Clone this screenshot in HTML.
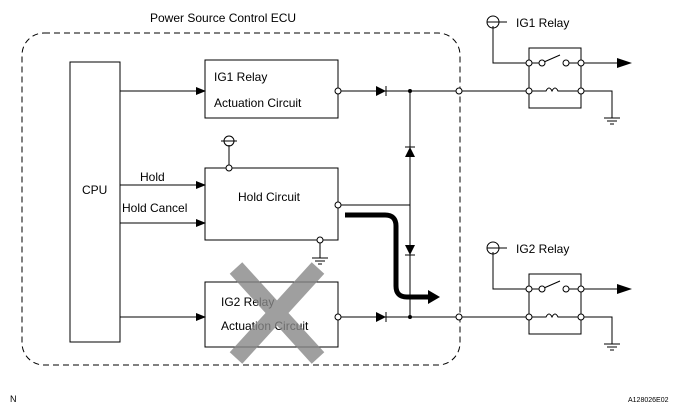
<!DOCTYPE html><html><head><style>body{margin:0;background:#fff}svg{display:block}text{font-family:"Liberation Sans",sans-serif;font-size:12px;fill:#000}</style></head><body>
<svg width="689" height="411" viewBox="0 0 689 411" xmlns="http://www.w3.org/2000/svg">
<defs><marker id="a" markerWidth="10" markerHeight="8" refX="9" refY="4" orient="auto" markerUnits="userSpaceOnUse"><path d="M0,0 L10,4 L0,8z" fill="#000"/></marker></defs>
<g fill="none" stroke="#000" stroke-width="1">
<rect x="22" y="33" width="438" height="332" rx="22" stroke-dasharray="6,4"/>
<rect x="70" y="62" width="50" height="280"/>
<rect x="205" y="60" width="133" height="58"/>
<rect x="205" y="168" width="133" height="72"/>
<rect x="205" y="282" width="133" height="65"/>
<path d="M120,91H205" marker-end="url(#a)"/>
<path d="M120,185H205" marker-end="url(#a)"/>
<path d="M120,223H205" marker-end="url(#a)"/>
<path d="M120,317H205" marker-end="url(#a)"/>
<path d="M338,91H528M338,317H528M410,91V317M338,205H410"/>
<path d="M229,168V145M221,141H237"/><circle cx="229" cy="141" r="5"/>
<path d="M320,240V258M312,258H328M315,261H325M318,264H322"/>
<path d="M345,215H385Q396,215 396,226V286Q396,297 407,297H430" stroke-width="5"/>
</g>
<path d="M428,290L440,297L428,304z"/>
<!-- diodes -->
<path d="M376,86L386,91L376,96z M376,312L386,317L376,322z"/><path d="M386,86V96M386,312V322" stroke="#000"/>
<path d="M405,157L410,147L415,157z M405,245L410,255L415,245z"/><path d="M405,147H415M405,255H415" stroke="#000"/>
<g fill="#fff" stroke="#000"><circle cx="338" cy="91" r="3"/><circle cx="338" cy="205" r="3"/><circle cx="338" cy="317" r="3"/><circle cx="229" cy="168" r="3"/><circle cx="320" cy="240" r="3"/><circle cx="459" cy="91" r="3"/><circle cx="459" cy="317" r="3"/></g>
<circle cx="410" cy="91" r="2"/><circle cx="410" cy="317" r="2"/>
<!-- relays -->
<g id="r" fill="none" stroke="#000">
<rect x="529" y="48" width="52" height="60"/>
<path d="M493,26V63H529M493,22H507" /><circle cx="493" cy="22" r="6"/><path d="M487,22H499"/>
<path d="M529,63H540M544,62L560,55M566,63H581M581,63H627" /><path d="M581,91H612V118M604,118H620M607,121H617M610,124H614"/>
<path d="M529,91H546Q549,85 552,91Q555,85 558,91H581"/>
</g>
<path d="M617,58L632,63L617,68z"/>
<g fill="#fff" stroke="#000"><circle cx="529" cy="63" r="3"/><circle cx="542" cy="63" r="3"/><circle cx="566" cy="63" r="3"/><circle cx="581" cy="63" r="3"/><circle cx="529" cy="91" r="3"/><circle cx="581" cy="91" r="3"/></g>
<g transform="translate(0,226)">
<g fill="none" stroke="#000">
<rect x="529" y="48" width="52" height="60"/>
<path d="M493,26V63H529M493,22H507"/><circle cx="493" cy="22" r="6"/><path d="M487,22H499"/>
<path d="M529,63H540M544,62L560,55M566,63H627"/><path d="M581,91H612V118M604,118H620M607,121H617M610,124H614"/>
<path d="M529,91H546Q549,85 552,91Q555,85 558,91H581"/>
</g>
<path d="M617,58L632,63L617,68z"/>
<g fill="#fff" stroke="#000"><circle cx="529" cy="63" r="3"/><circle cx="542" cy="63" r="3"/><circle cx="566" cy="63" r="3"/><circle cx="581" cy="63" r="3"/><circle cx="529" cy="91" r="3"/><circle cx="581" cy="91" r="3"/></g>
</g>
<text x="150" y="22">Power Source Control ECU</text>
<text x="516" y="27">IG1 Relay</text>
<text x="516" y="253">IG2 Relay</text>
<text x="82" y="194">CPU</text>
<text x="140" y="181">Hold</text>
<text x="122" y="212">Hold Cancel</text>
<text x="214" y="81">IG1 Relay</text>
<text x="214" y="107">Actuation Circuit</text>
<text x="238" y="201">Hold Circuit</text>
<text x="221" y="306">IG2 Relay</text>
<text x="221" y="330">Actuation Circuit</text>
<path d="M236,268L318,358M318,268L236,358" stroke="#888" stroke-width="17" opacity="0.8"/>
<text x="10" y="402" style="font-size:9px">N</text>
<text x="628" y="402" style="font-size:7px">A128026E02</text>
</svg></body></html>
